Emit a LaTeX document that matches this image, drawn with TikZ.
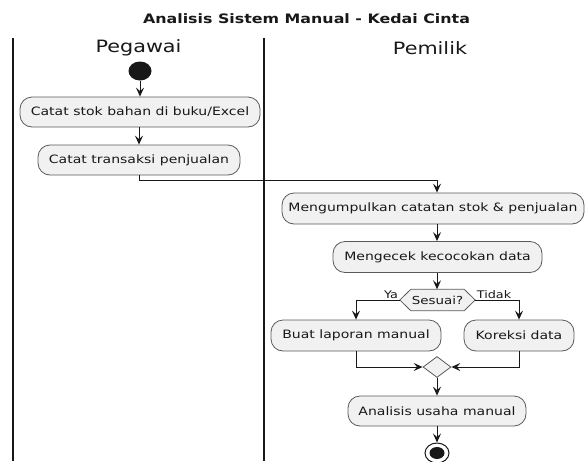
\documentclass[tikz,border=0pt]{standalone}
\usepackage{fontspec}
\setmainfont{DejaVu Sans}[FakeStretch=1.22]
\usetikzlibrary{arrows.meta,backgrounds,shapes.geometric}
\definecolor{ink}{HTML}{181818}
\definecolor{boxfill}{HTML}{F1F1F1}
\definecolor{boxline}{HTML}{5A5A5A}
\tikzset{
  x=1pt, y=-1pt,
  act/.style={draw=boxline, fill=boxfill, line width=0.8pt, rounded corners=12pt,
    inner sep=0pt, minimum height=30pt, font=\fontsize{11.5}{13}\selectfont, text=ink},
  flow/.style={draw=ink, line width=1pt, -{Stealth[length=9pt,width=8pt,inset=3.5pt]}},
  lane/.style={draw=ink, line width=2pt},
  lanehead/.style={font=\fontsize{17}{20}\selectfont, text=ink},
  guard/.style={font=\fontsize{10.5}{12}\selectfont, text=ink},
}
\begin{document}
\begin{tikzpicture}
\useasboundingbox (0,0) rectangle (586,461);

% title
\node[font=\bfseries\fontsize{13}{15}\selectfont, text=ink] (title) at (306.5,19) {Analisis Sistem Manual - Kedai Cinta};

% swimlane borders and headers
\coordinate (l1t) at (12.5,38);  \coordinate (l1b) at (12.5,461);
\coordinate (l2t) at (264,38);   \coordinate (l2b) at (264,461);
\draw[lane] (l1t) -- (l1b);
\draw[lane] (l2t) -- (l2b);
\node[lanehead] (hpeg) at (138.5,48) {Pegawai};
\node[lanehead] (hpem) at (430,48) {Pemilik};

% start / end
\node[fill=ink, ellipse, minimum width=23pt, minimum height=19pt, inner sep=0pt] (start) at (140,71) {};
\node[draw=ink, line width=1pt, ellipse, minimum width=24pt, minimum height=20pt, inner sep=0pt] (stop) at (437,453) {};
\node[fill=ink, ellipse, minimum width=15pt, minimum height=12pt, inner sep=0pt] (stopdot) at (stop.center) {};

% activities
\node[act, minimum width=240pt] (b1) at (140,112) {Catat stok bahan di buku/Excel};
\node[act, minimum width=202pt] (b2) at (139,160) {Catat transaksi penjualan};
\node[act, minimum width=302pt, minimum height=31pt] (b3) at (433,208.5) {Mengumpulkan catatan stok \& penjualan};
\node[act, minimum width=209pt, minimum height=31pt] (b4) at (437.5,257) {Mengecek kecocokan data};
\node[act, minimum width=170pt, minimum height=31pt] (b5) at (356,335.5) {Buat laporan manual};
\node[act, minimum width=110pt, minimum height=31pt] (b6) at (519,335.5) {Koreksi data};
\node[act, minimum width=178pt] (b7) at (437,411) {Analisis usaha manual};

% decision (hexagon) and merge (diamond)
\node[inner sep=0pt, minimum width=75pt, minimum height=21pt, font=\fontsize{11}{13}\selectfont, text=ink] (hx) at (437.5,300) {Sesuai?};
\begin{scope}[on background layer]
  \draw[draw=boxline, fill=boxfill, line width=0.8pt]
    (hx.west) -- ([xshift=11pt]hx.north west) -- ([xshift=-11pt]hx.north east)
    -- (hx.east) -- ([xshift=-11pt]hx.south east) -- ([xshift=11pt]hx.south west) -- cycle;
\end{scope}
\node[draw=boxline, fill=boxfill, line width=0.8pt, diamond, inner sep=0pt,
      minimum width=28pt, minimum height=21pt] (mg) at (437,367) {};

% junction point of the lane crossing
\coordinate (j1) at (437,180);

% connectors
\draw[flow] (start) -- (start |- b1.north);
\draw[flow] (b1.south -| b2) -- (b2.north);
\draw[flow] (b2.south) |- (j1) -- (j1 |- b3.north);
\draw[flow] (j1 |- b3.south) -- (j1 |- b4.north);
\draw[flow] (j1 |- b4.south) -- (j1 |- hx.north);
\draw[flow] (hx.west) -| (b5.north);
\draw[flow] (hx.east) -| (b6.north);
\draw[flow] (b5.south) |- (mg.west);
\draw[flow] (b6.south) |- (mg.east);
\draw[flow] (mg.south) -- (b7.north);
\draw[flow] (b7.south) -- (stop.north);

% guards
\node[guard] (gya) at (391,295) {Ya};
\node[guard] (gtd) at (494,295) {Tidak};
\end{tikzpicture}
\end{document}
